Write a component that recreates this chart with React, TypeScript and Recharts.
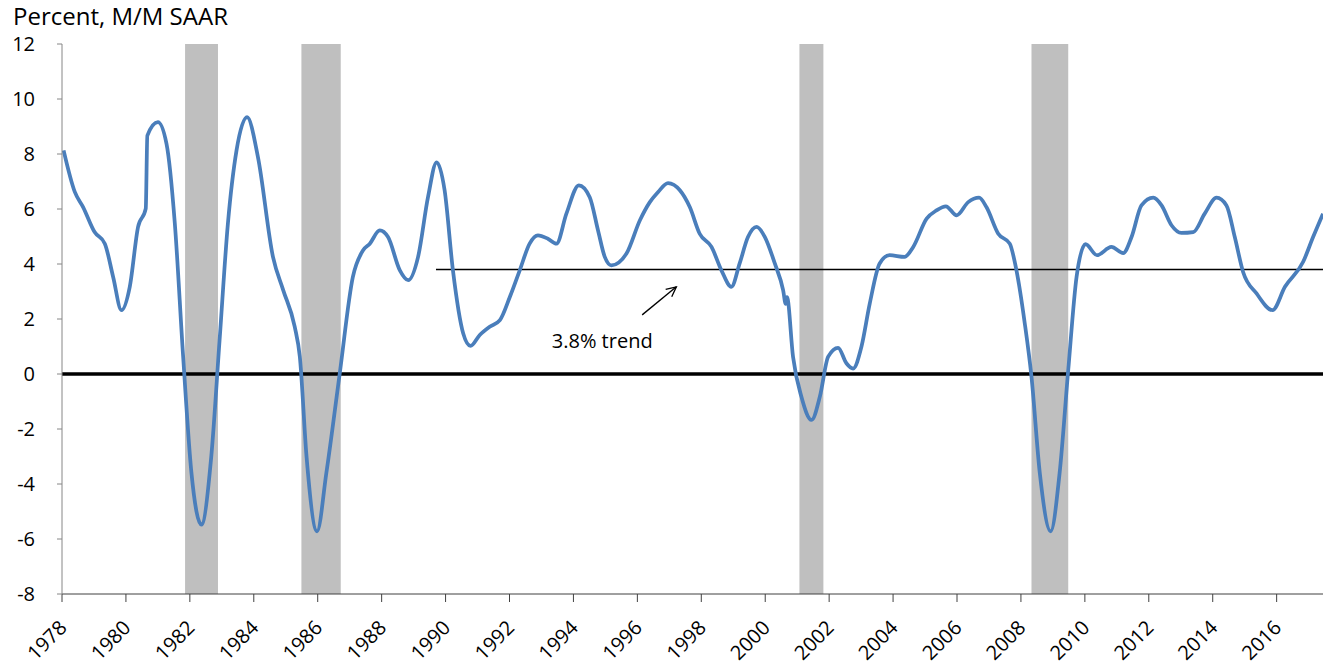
import React from 'react';
import {
  LineChart,
  Line,
  XAxis,
  YAxis,
  ReferenceArea,
  ReferenceLine,
  ReferenceDot,
} from 'recharts';

// year (decimal) and M/M SAAR growth
const years = [
  1978.05, 1978.4, 1978.66, 1979.02, 1979.34, 1979.6, 1979.86, 1980.12, 1980.38, 1980.62,
  1980.67, 1981.0, 1981.27, 1981.53, 1981.79, 1982.05, 1982.36, 1982.67, 1982.93, 1983.19,
  1983.46, 1983.79, 1984.13, 1984.6, 1984.92, 1985.28, 1985.44, 1985.65, 1985.98, 1986.27,
  1986.69, 1987.1, 1987.42, 1987.63, 1987.94, 1988.2, 1988.57, 1988.83, 1989.14, 1989.45,
  1989.72, 1989.97, 1990.23, 1990.55, 1990.78, 1991.07, 1991.38, 1991.7, 1992.01, 1992.32,
  1992.63, 1992.89, 1993.2, 1993.47, 1993.78, 1994.17, 1994.51, 1994.77, 1994.98, 1995.19,
  1995.66, 1996.08, 1996.39, 1996.65, 1996.96, 1997.33, 1997.64, 1997.95, 1998.32, 1998.63,
  1998.94, 1999.2, 1999.46, 1999.73, 1999.99, 2000.3, 2000.56, 2000.64, 2000.68, 2000.87,
  2001.13, 2001.45, 2001.71, 2001.97, 2002.28, 2002.54, 2002.75, 2003.01, 2003.27, 2003.58,
  2003.89, 2004.36, 2004.63, 2005.05, 2005.36, 2005.65, 2005.99, 2006.35, 2006.69, 2006.92,
  2007.29, 2007.65, 2007.86, 2008.12, 2008.33, 2008.59, 2008.93, 2009.21, 2009.48, 2009.74,
  2010.02, 2010.38, 2010.83, 2011.2, 2011.46, 2011.77, 2012.14, 2012.4, 2012.71, 2013.02,
  2013.39, 2013.75, 2014.12, 2014.43, 2014.69, 2014.95, 2015.37, 2015.87, 2016.26, 2016.83,
  2017.14, 2017.45,
];

const growth = [
  8.13, 6.62, 6.07, 5.16, 4.74, 3.53, 2.32, 3.17, 5.35, 6.01,
  8.67, 9.16, 8.37, 5.47, 0.63, -3.6, -5.48, -3.0, 1.23, 5.47,
  8.13, 9.34, 7.89, 4.26, 3.05, 1.72, 0.63, -3.0, -5.72, -3.6,
  0.03, 3.53, 4.5, 4.74, 5.22, 4.98, 3.77, 3.41, 4.26, 6.43,
  7.7, 6.68, 3.77, 1.48, 1.02, 1.42, 1.72, 1.96, 2.8, 3.77,
  4.74, 5.04, 4.92, 4.74, 5.83, 6.86, 6.43, 5.22, 4.26, 3.95,
  4.38, 5.59, 6.25, 6.62, 6.94, 6.68, 6.07, 5.1, 4.62, 3.77,
  3.17, 4.02, 4.98, 5.35, 4.98, 4.02, 3.05, 2.55, 2.8, 0.63,
  -0.82, -1.67, -0.82, 0.63, 0.95, 0.39, 0.2, 0.99, 2.56, 4.02,
  4.32, 4.26, 4.62, 5.65, 5.95, 6.1, 5.77, 6.25, 6.41, 6.07,
  5.1, 4.74, 3.77, 1.84, -0.1, -3.6, -5.72, -3.6, 0.15, 3.53,
  4.72, 4.32, 4.62, 4.4, 4.98, 6.13, 6.41, 6.13, 5.41, 5.13,
  5.16, 5.83, 6.41, 6.13, 4.98, 3.71, 2.93, 2.32, 3.17, 4.08,
  4.98, 5.83,
];

// shaded recession periods
const recessionStart = [1981.85, 1985.49, 2001.07, 2008.33];
const recessionEnd = [1982.88, 1986.72, 2001.82, 2009.48];

const xTicks = [
  1978, 1980, 1982, 1984, 1986, 1988, 1990, 1992, 1994, 1996, 1998, 2000, 2002, 2004, 2006,
  2008, 2010, 2012, 2014, 2016,
];
const yTicks = [-8, -6, -4, -2, 0, 2, 4, 6, 8, 10, 12];

const trendValue = 3.8;
const trendStart = 1989.7;
const lastYear = 2017.45;
const arrowFrom = { x: 1996.15, y: 2.15 };
const arrowTo = { x: 1997.22, y: 3.17 };
const noteAt = { x: 1994.9, y: 1.2 };

const data = years.map((year, i) => ({ year, value: growth[i] }));

const FONT = '"Open Sans", sans-serif';

const XTick = (props: any) => {
  const { x, y, payload } = props;
  const tx = x + 6;
  const ty = y + 25;
  return (
    <text
      x={tx}
      y={ty}
      transform={`rotate(-45 ${tx} ${ty})`}
      textAnchor="end"
      fontSize={20}
      fill="#000"
      fontFamily={FONT}
    >
      {payload.value}
    </text>
  );
};

// arrow pointing at the trend line
const Arrow = (props: any) => {
  const { x1, y1, x2, y2 } = props;
  if ([x1, y1, x2, y2].some((v) => typeof v !== 'number')) return null;
  const ang = Math.atan2(y2 - y1, x2 - x1);
  const len = 11;
  const spread = 0.45;
  const ax = x2 - len * Math.cos(ang - spread);
  const ay = y2 - len * Math.sin(ang - spread);
  const bx = x2 - len * Math.cos(ang + spread);
  const by = y2 - len * Math.sin(ang + spread);
  return (
    <g>
      <line x1={x1} y1={y1} x2={x2} y2={y2} stroke="#000" strokeWidth={1.3} />
      <polyline
        points={`${ax},${ay} ${x2},${y2} ${bx},${by}`}
        fill="none"
        stroke="#000"
        strokeWidth={1.3}
      />
    </g>
  );
};

const Note = (props: any) => {
  const { cx, cy } = props;
  return (
    <text
      x={cx}
      y={cy}
      dy="0.35em"
      textAnchor="middle"
      fontSize={20}
      fill="#000"
      fontFamily={FONT}
    >
      3.8% trend
    </text>
  );
};

export default function App() {
  return (
    <div
      style={{
        position: 'absolute',
        left: 0,
        top: 0,
        width: 1323,
        height: 668,
        background: '#fff',
        fontFamily: FONT,
      }}
    >
      <div
        style={{
          position: 'absolute',
          left: 13,
          top: 3,
          fontSize: 24,
          lineHeight: '26px',
          color: '#000',
        }}
      >
        Percent, M/M SAAR
      </div>
      <LineChart
        width={1323}
        height={668}
        data={data}
        margin={{ top: 44, right: 0, left: 0, bottom: 0 }}
      >
        {recessionStart.map((s, i) => (
          <ReferenceArea
            key={s}
            x1={s}
            x2={recessionEnd[i]}
            y1={-8}
            y2={12}
            fill="#bfbfbf"
            fillOpacity={1}
            stroke="none"
          />
        ))}
        <XAxis
          dataKey="year"
          type="number"
          domain={[1978, lastYear]}
          ticks={xTicks}
          allowDataOverflow
          height={74}
          tickSize={8}
          tickMargin={2}
          stroke="#404040"
          tickLine={{ stroke: '#404040' }}
          tick={<XTick />}
          interval={0}
        />
        <YAxis
          type="number"
          domain={[-8, 12]}
          ticks={yTicks}
          allowDataOverflow
          width={62}
          tickSize={5}
          tickMargin={22}
          stroke="#868686"
          tickLine={{ stroke: '#868686' }}
          tick={{ fill: '#000', fontSize: 20, fontFamily: FONT }}
          interval={0}
        />
        <ReferenceLine y={0} stroke="#000" strokeWidth={3.5} />
        <ReferenceLine
          segment={[
            { x: trendStart, y: trendValue },
            { x: lastYear, y: trendValue },
          ]}
          stroke="#000"
          strokeWidth={1.3}
        />
        <ReferenceLine
          segment={[arrowFrom, arrowTo]}
          shape={<Arrow />}
        />
        <ReferenceDot x={noteAt.x} y={noteAt.y} r={0} shape={<Note />} />
        <Line
          type="monotone"
          dataKey="value"
          stroke="#4a7ebb"
          strokeWidth={3.75}
          dot={false}
          activeDot={false}
          isAnimationActive={false}
        />
      </LineChart>
    </div>
  );
}
